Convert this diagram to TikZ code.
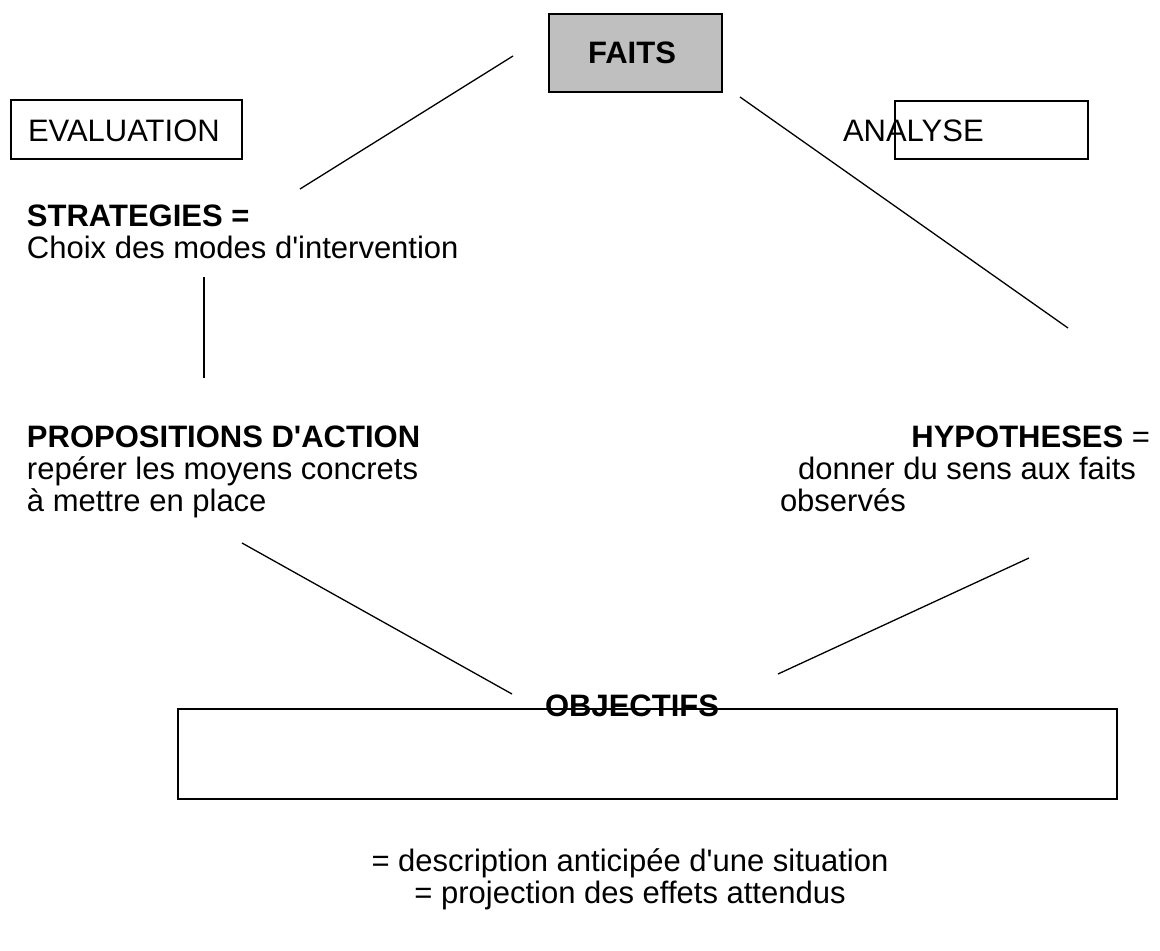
\documentclass[tikz,border=0pt]{standalone}
\usepackage{fontspec}
\setmainfont{Liberation Sans}[Ligatures=TeXOff]
\begin{document}
\begin{tikzpicture}[x=1pt,y=-1pt,
  txt/.style={inner sep=0pt,outer sep=0pt,font=\fontsize{31}{37}\selectfont},
  btxt/.style={txt,font=\fontsize{31}{37}\selectfont\bfseries},
  ln/.style={line width=1.3pt},
  frame/.style={draw,line width=1.5pt}]
\useasboundingbox (0,0) rectangle (1160,951);
% boxes
\filldraw[frame,fill=black!25] (549,14) rectangle (722,92);
\node[btxt] (faits) at (632,53) {FAITS};
\draw[frame] (11,100) rectangle (242,159);
\node[txt,anchor=base west] (eval) at (28,141) {EVALUATION};
\draw[frame] (895,101) rectangle (1088,159);
\node[txt,anchor=base west] (analyse) at (843,141) {ANALYSE};
% left texts
\node[btxt,anchor=base west] (strat) at (27,226) {STRATEGIES =};
\node[txt,anchor=base west] (choix) at (27,258) {Choix des modes d'intervention};
\node[btxt,anchor=base west] (prop) at (27,447) {PROPOSITIONS D'ACTION};
\node[txt,anchor=base west] (rep) at (27,479) {repérer les moyens concrets};
\node[txt,anchor=base west] (mettre) at (27,511) {à mettre en place};
% right texts
\node[txt,anchor=base east] (hyp) at (1150,447) {\textbf{HYPOTHESES} =};
\node[txt,anchor=base east] (donner) at (1136,479) {donner du sens aux faits};
\node[txt,anchor=base west] (obs) at (780,511) {observés};
% objectifs
\draw[frame] (178,709) rectangle (1117,799);
\node[btxt,anchor=base] (obj) at (632,716) {OBJECTIFS};
\node[txt,anchor=base] (d1) at (630,871) {= description anticipée d'une situation};
\node[txt,anchor=base] (d2) at (630,903) {= projection des effets attendus};
% connectors
\coordinate (a1) at (513,56); \coordinate (a2) at (300,189);
\coordinate (b1) at (740,97); \coordinate (b2) at (1068,328);
\coordinate (c1) at (204,277); \coordinate (c2) at (204,378);
\coordinate (e1) at (242,543); \coordinate (e2) at (512,694);
\coordinate (f1) at (1029,558); \coordinate (f2) at (778,674);
\draw[ln] (a1) -- (a2);
\draw[ln] (b1) -- (b2);
\draw[ln] (c1) -- (c2);
\draw[ln] (e1) -- (e2);
\draw[ln] (f1) -- (f2);
\end{tikzpicture}
\end{document}
